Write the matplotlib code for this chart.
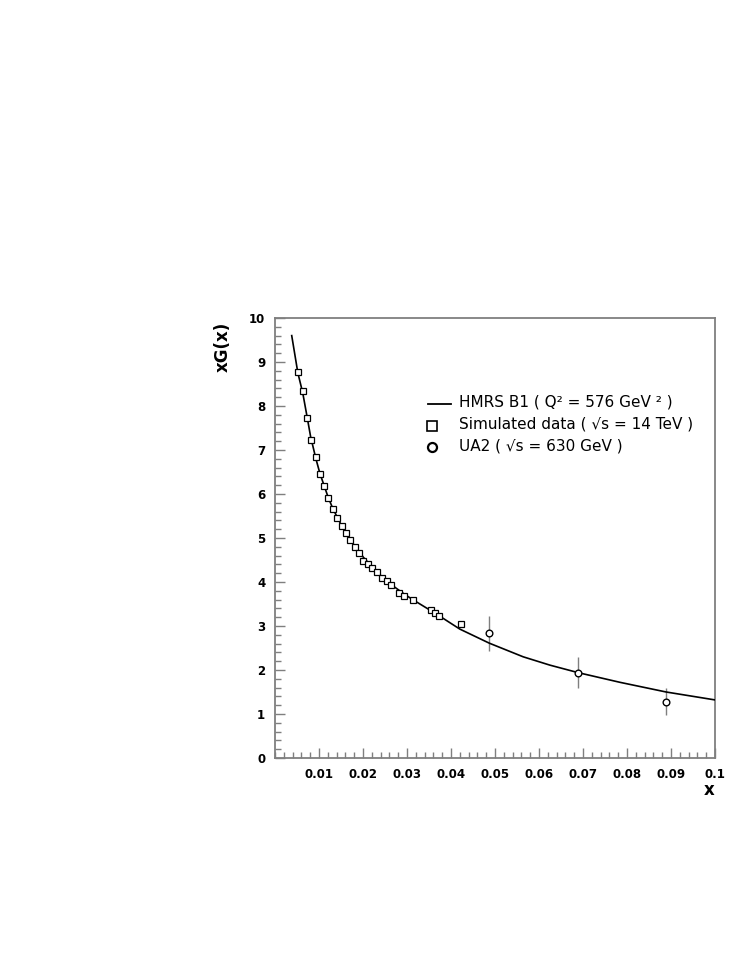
import matplotlib
matplotlib.use("Agg")
import matplotlib.pyplot as plt
from matplotlib.lines import Line2D
from matplotlib.ticker import MultipleLocator

# HMRS B1 curve
curve_x = [0.0038, 0.0052, 0.0063, 0.0073, 0.0081, 0.0093, 0.0102, 0.0112, 0.0121,
           0.0131, 0.0142, 0.0152, 0.0161, 0.0171, 0.0182, 0.0192, 0.0201, 0.0221,
           0.0242, 0.0263, 0.0293, 0.0313, 0.0354, 0.0375, 0.0420, 0.0487, 0.0564,
           0.0625, 0.0689, 0.0784, 0.0889, 0.1000]
curve_y = [9.60, 8.75, 8.30, 7.75, 7.30, 6.80, 6.47, 6.18, 5.92,
           5.68, 5.46, 5.27, 5.11, 4.96, 4.81, 4.68, 4.56, 4.34,
           4.13, 3.95, 3.73, 3.60, 3.35, 3.22, 2.93, 2.61, 2.30,
           2.11, 1.94, 1.72, 1.50, 1.32]

# Simulated data (sqrt(s) = 14 TeV)
sim_x = [0.00523, 0.00629, 0.00727, 0.00811, 0.00925, 0.01023, 0.01121, 0.01212,
         0.01311, 0.01417, 0.01515, 0.01614, 0.01712, 0.01818, 0.01916, 0.02008,
         0.02106, 0.02212, 0.02311, 0.02424, 0.02538, 0.02629, 0.02826, 0.02925,
         0.03129, 0.03538, 0.03636, 0.03720, 0.04227]
sim_y = [8.77, 8.33, 7.73, 7.23, 6.83, 6.46, 6.18, 5.92,
         5.67, 5.46, 5.27, 5.11, 4.95, 4.80, 4.67, 4.48,
         4.41, 4.31, 4.22, 4.08, 4.03, 3.93, 3.76, 3.69,
         3.59, 3.36, 3.30, 3.23, 3.04]

# UA2 data (sqrt(s) = 630 GeV)
ua2_x = [0.0487, 0.0689, 0.0889]
ua2_y = [2.83, 1.94, 1.28]
ua2_err = [0.39, 0.35, 0.30]

xticks = [0.01, 0.02, 0.03, 0.04, 0.05, 0.06, 0.07, 0.08, 0.09, 0.1]
xticklabels = ["0.01", "0.02", "0.03", "0.04", "0.05", "0.06", "0.07", "0.08", "0.09", "0.1"]
yticks = list(range(0, 11))

W, H = 747, 967
fig = plt.figure(figsize=(W / 100, H / 100), dpi=100)
ax = fig.add_axes([275 / W, 1 - 758 / H, 440 / W, 440 / H])

grey = "#7f7f7f"
ax.plot(curve_x, curve_y, color="black", lw=1.2, zorder=3)
ax.errorbar(ua2_x, ua2_y, yerr=ua2_err, fmt="none", ecolor=grey, elinewidth=1.0, capsize=0, zorder=2)
ax.plot(ua2_x, ua2_y, "o", ms=4.8, mfc="white", mec="black", mew=1.0, ls="none", zorder=4)
ax.plot(sim_x, sim_y, "s", ms=4.8, mfc="white", mec="black", mew=0.9, ls="none", zorder=4)

ax.set_xlim(0, 0.1)
ax.set_ylim(0, 10)
ax.set_xticks(xticks)
ax.set_xticklabels(xticklabels)
ax.set_yticks(yticks)
ax.xaxis.set_minor_locator(MultipleLocator(0.002))
ax.yaxis.set_minor_locator(MultipleLocator(0.2))
ax.tick_params(which="both", direction="in", color=grey, top=False, right=False, width=1.0)
ax.tick_params(which="major", length=7, pad=7)
ax.tick_params(which="minor", length=4)
for lab in ax.get_xticklabels() + ax.get_yticklabels():
    lab.set_fontweight("bold")
    lab.set_fontsize(8.5)
for sp in ax.spines.values():
    sp.set_color(grey)
    sp.set_linewidth(1.3)

fig.text(223 / W, 1 - 347 / H, "xG(x)", rotation=90, ha="center", va="center",
         fontsize=12, fontweight="bold")
fig.text(709 / W, 1 - 790 / H, "x", ha="center", va="center", fontsize=12, fontweight="bold")

# legend
rows = [402, 424, 446]
fig.add_artist(Line2D([428 / W, 451 / W], [1 - 404 / H, 1 - 404 / H], color="black", lw=1.3,
                      transform=fig.transFigure))
fig.add_artist(Line2D([432 / W], [1 - 426 / H], marker="s", ms=7, mfc="white", mec="black",
                      mew=1.2, transform=fig.transFigure))
fig.add_artist(Line2D([432 / W], [1 - 447 / H], marker="o", ms=6.5, mfc="white", mec="black",
                      mew=1.6, transform=fig.transFigure))
labels = ["HMRS B1 ( Q² = 576 GeV ² )",
          "Simulated data ( √s = 14 TeV )",
          "UA2 ( √s = 630 GeV )"]
for yy, t in zip(rows, labels):
    fig.text(459 / W, 1 - yy / H, t, ha="left", va="center", fontsize=11)

fig.savefig("out.png", dpi=100)
